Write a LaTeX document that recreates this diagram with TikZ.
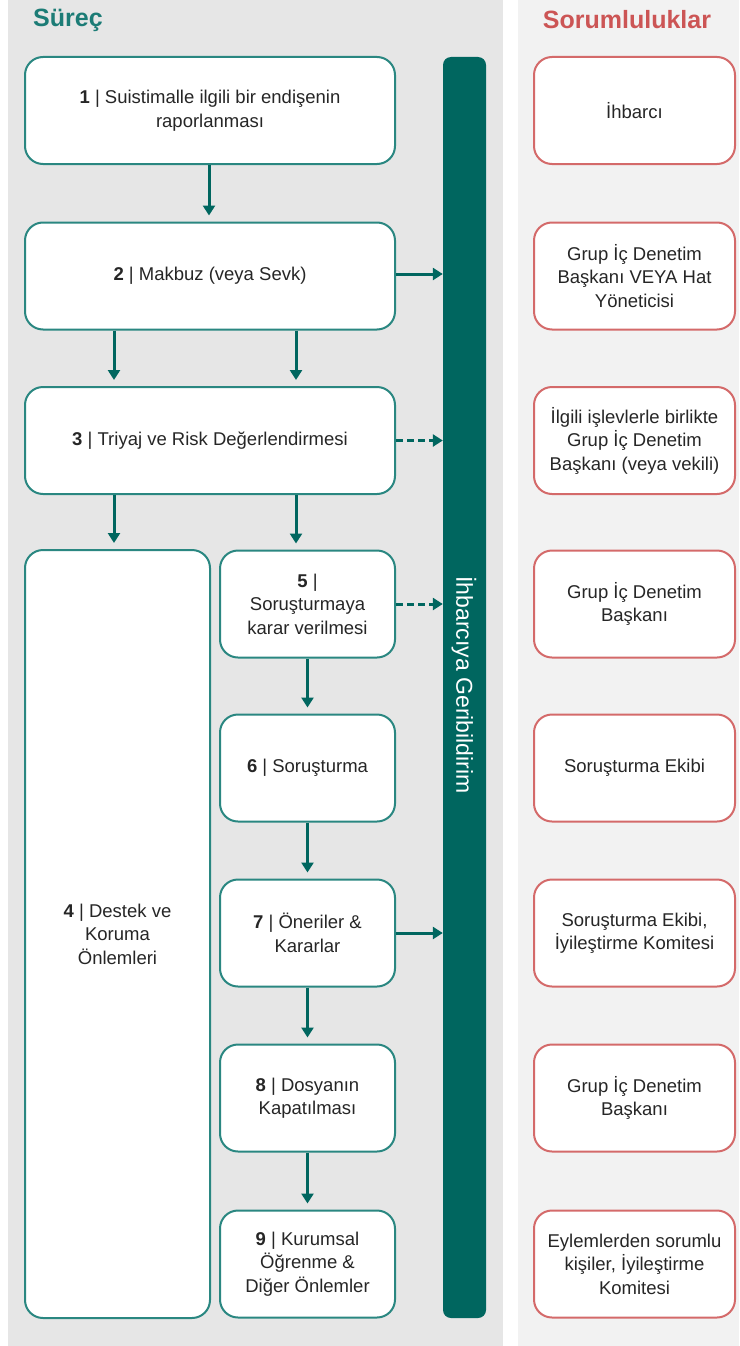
\documentclass[tikz,border=0pt]{standalone}
\usepackage{fontspec}
\setmainfont{Liberation Sans}
\usetikzlibrary{arrows.meta,calc}
\definecolor{tealdark}{HTML}{00665F}
\definecolor{tealbox}{HTML}{2A8781}
\definecolor{tealhead}{HTML}{1C7C76}
\definecolor{redbox}{HTML}{D46A6A}
\definecolor{redhead}{HTML}{CC5555}
\definecolor{panelL}{HTML}{E6E6E6}
\definecolor{panelR}{HTML}{F2F2F2}
\definecolor{txt}{HTML}{262626}
\tikzset{
  procbox/.style={draw=tealbox, line width=2pt, fill=white, rounded corners=18pt,
    align=center, text=txt, font=\fontsize{18.5}{23.5}\selectfont, inner sep=0pt},
  respbox/.style={draw=redbox, line width=2pt, fill=white, rounded corners=18pt,
    align=center, text=txt, font=\fontsize{18.5}{23.5}\selectfont, inner sep=0pt,
    minimum width=201pt, minimum height=107pt},
  flow/.style={draw=tealdark, line width=3pt, -{Triangle[length=10pt,width=12pt]}},
  flowdash/.style={flow, dash pattern=on 7pt off 4pt},
  head/.style={font=\fontsize{25}{30}\selectfont\bfseries, inner sep=0pt}
}
\begin{document}
\begin{tikzpicture}[x=1pt,y=-1pt]
\useasboundingbox (0,0) rectangle (739,1346);
\fill[white] (0,0) rectangle (739,1346);
\fill[panelL] (8,0) rectangle (503,1346);
\fill[panelR] (518,0) rectangle (739,1346);

\node[head, text=tealhead, anchor=west] (hL) at (33,20) {Süreç};
\node[head, text=redhead] (hR) at (627,20) {Sorumluluklar};

% process boxes
\node[procbox, minimum width=370pt, minimum height=107pt] (b1) at (210,110.5) {\textbf{1} | Suistimalle ilgili bir endişenin\\raporlanması};
\node[procbox, minimum width=370pt, minimum height=107pt] (b2) at (210,276) {\textbf{2} | Makbuz (veya Sevk)};
\node[procbox, minimum width=370pt, minimum height=107pt] (b3) at (210,440.5) {\textbf{3} | Triyaj ve Risk Değerlendirmesi};
\node[procbox, minimum width=185pt, minimum height=768pt] (b4) at (117.5,934) {\textbf{4} | Destek ve\\Koruma\\Önlemleri};
\node[procbox, minimum width=175pt, minimum height=107pt] (b5) at (307.5,604) {\textbf{5} |\\Soruşturmaya\\karar verilmesi};
\node[procbox, minimum width=175pt, minimum height=107pt] (b6) at (307.5,768) {\textbf{6} | Soruşturma};
\node[procbox, minimum width=175pt, minimum height=107pt] (b7) at (307.5,933) {\textbf{7} | Öneriler \&\\Kararlar};
\node[procbox, minimum width=175pt, minimum height=107pt] (b8) at (307.5,1098) {\textbf{8} | Dosyanın\\Kapatılması};
\node[procbox, minimum width=175pt, minimum height=107pt] (b9) at (307.5,1264) {\textbf{9} | Kurumsal\\Öğrenme \&\\Diğer Önlemler};

% feedback bar
\node[fill=tealdark, rounded corners=8pt, minimum width=43pt, minimum height=1261pt, inner sep=0pt] (bar) at (464.5,687.5) {};
\node[rotate=-90, text=white, font=\fontsize{23}{28}\selectfont, inner sep=0pt] (barT) at (464,685) {İhbarcıya Geribildirim};

% responsibilities
\node[respbox] (r1) at (634.5,110.5) {İhbarcı};
\node[respbox] (r2) at (634.5,276) {Grup İç Denetim\\Başkanı VEYA Hat\\Yöneticisi};
\node[respbox] (r3) at (634.5,440.5) {İlgili işlevlerle birlikte\\Grup İç Denetim\\Başkanı (veya vekili)};
\node[respbox] (r4) at (634.5,604) {Grup İç Denetim\\Başkanı};
\node[respbox] (r5) at (634.5,768) {Soruşturma Ekibi};
\node[respbox] (r6) at (634.5,933) {Soruşturma Ekibi,\\İyileştirme Komitesi};
\node[respbox] (r7) at (634.5,1098) {Grup İç Denetim\\Başkanı};
\node[respbox] (r8) at (634.5,1264) {Eylemlerden sorumlu\\kişiler, İyileştirme\\Komitesi};

% vertical flows
\draw[flow, shorten >=6pt] (b1.south -| 209,0) -- (b2.north -| 209,0);
\draw[flow, shorten >=6pt] ($(b2.south west)+(90,0)$) -- ($(b3.north west)+(90,0)$);
\draw[flow, shorten >=6pt] ($(b2.south west)+(272,0)$) -- ($(b3.north west)+(272,0)$);
\draw[flow, shorten >=6pt] ($(b3.south west)+(90,0)$) -- ($(b4.north west)+(90,0)$);
\draw[flow, shorten >=6pt] ($(b3.south west)+(272,0)$) -- ($(b5.north west)+(77,0)$);
\draw[flow, shorten >=6pt] (b5.south) -- (b6.north);
\draw[flow, shorten >=6pt] (b6.south) -- (b7.north);
\draw[flow, shorten >=6pt] (b7.south) -- (b8.north);
\draw[flow, shorten >=6pt] (b8.south) -- (b9.north);

% horizontal flows to bar
\draw[flow] ($(b2.east)+(0,-2)$) -- ($(b2.east -| bar.west)+(0,-2)$);
\draw[flowdash] (b3.east) -- (b3.east -| bar.west);
\draw[flowdash] (b5.east) -- (b5.east -| bar.west);
\draw[flow] (b7.east) -- (b7.east -| bar.west);
\end{tikzpicture}
\end{document}
